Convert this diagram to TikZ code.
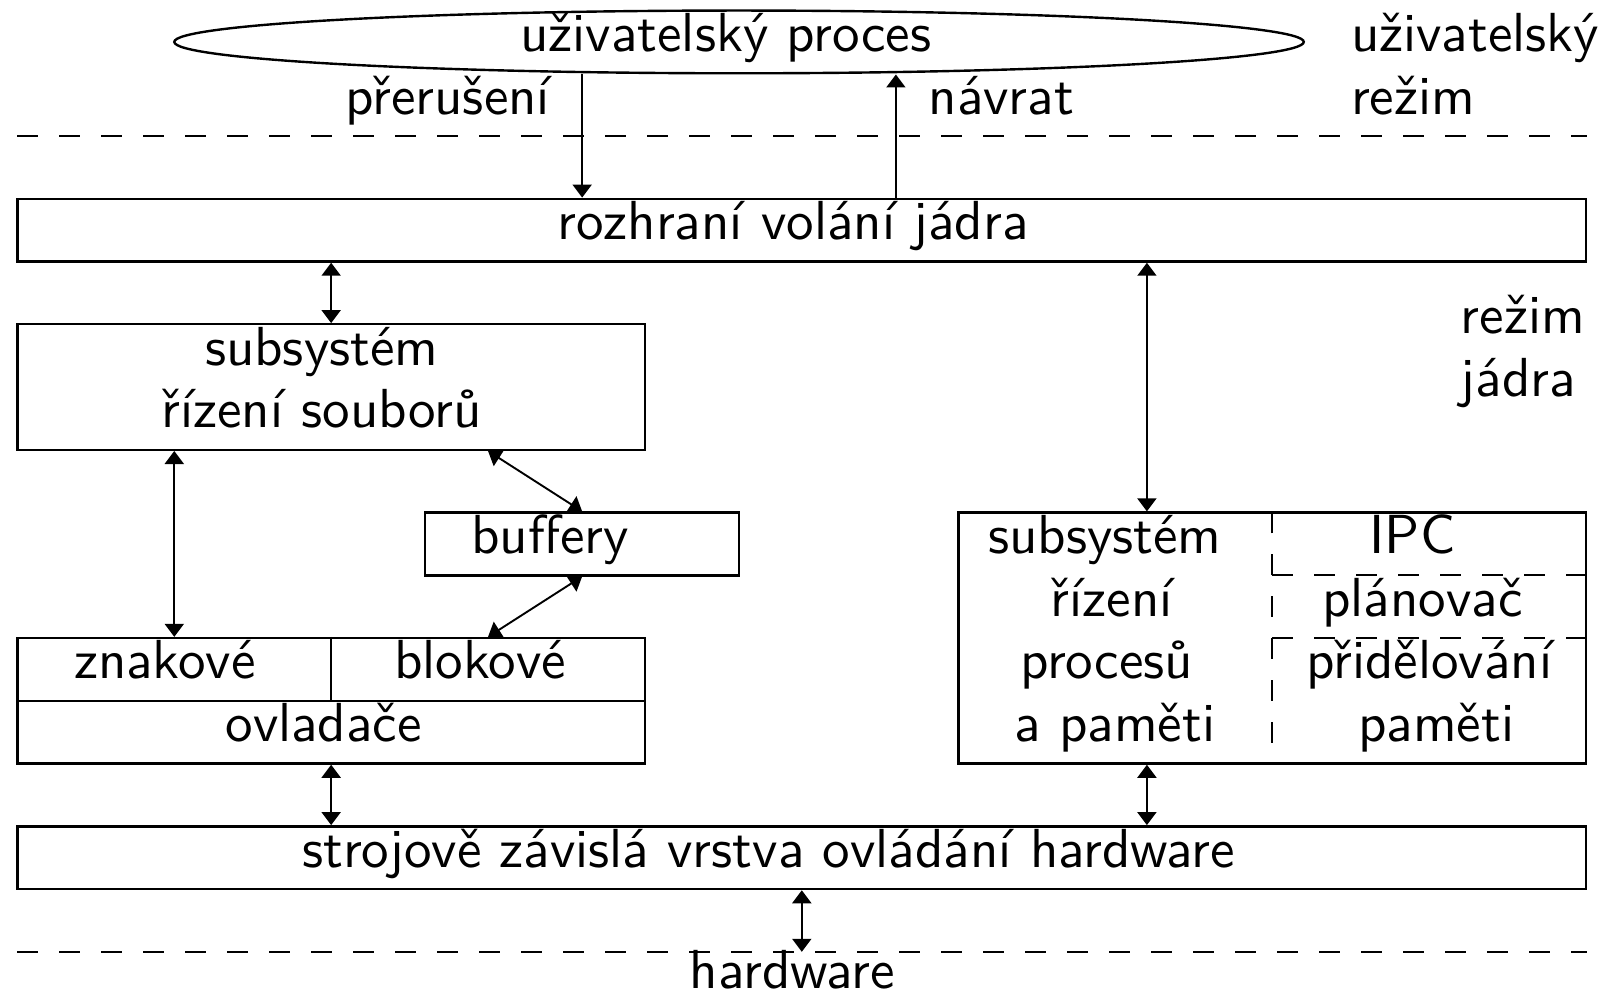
\documentclass[tikz,border=0pt]{standalone}
\usepackage{fontspec}
\setsansfont{lmsans10-regular}[Extension=.otf]
\usetikzlibrary{arrows.meta,shapes.geometric}
\newlength\un
\setlength\un{62.75pt}
\begin{document}
\begin{tikzpicture}[x=\un,y=-\un,
  font=\sffamily\fontsize{55}{63}\selectfont,
  box/.style={draw,line width=2.4pt,inner sep=0pt,rectangle},
  sub/.style={draw,line width=2pt,dash pattern=on 21pt off 21pt},
  sep/.style={line width=2pt,dash pattern=on 21pt off 21pt},
  lbl/.style={inner sep=0pt,anchor=base},
  tip/.tip={Triangle[length=13pt,width=19pt]},
  link/.style={line width=1.9pt,tip-tip},
  onew/.style={line width=1.9pt,-tip}]
\useasboundingbox (-0.2773,-3.168) rectangle (25.332,12.688);

% mode separators
\draw[sep] (0,-1) -- (25.02,-1);
\draw[sep] (0,12) -- (25.02,12);

% user process
\node[draw,ellipse,line width=2.4pt,inner sep=0pt,minimum width=18\un,minimum height=1\un] (up) at (11.5,-2.5) {};
\node[lbl] (upt) at (11.29,-2.35) {uživatelský proces};
\node[lbl,anchor=base east] (intr) at (8.49,-1.35) {přerušení};
\node[lbl,anchor=base west] (ret) at (14.52,-1.35) {návrat};
\node[lbl,anchor=base west] (um1) at (21.25,-2.35) {uživatelský};
\node[lbl,anchor=base west] (um2) at (21.25,-1.35) {režim};
\node[lbl,anchor=base west] (km1) at (23.0,2.15) {režim};
\node[lbl,anchor=base west] (km2) at (23.0,3.15) {jádra};

% kernel blocks
\node[box,minimum width=25\un,minimum height=1\un] (kif) at (12.5,0.5) {};
\node[lbl] at (12.36,0.65) {rozhraní volání jádra};

\node[box,minimum width=10\un,minimum height=2\un] (fs) at (5,3) {};
\node[lbl] at (4.85,2.65) {subsystém};
\node[lbl] at (4.85,3.65) {řízení souborů};

\node[box,minimum width=5\un,minimum height=1\un] (buf) at (9,5.5) {};
\node[lbl] at (8.49,5.65) {buffery};

\node[box,minimum width=10\un,minimum height=2\un] (drv) at (5,8) {};
\draw[line width=2.4pt] (drv.west |- 0,8) -- (drv.east |- 0,8);
\draw[line width=2.4pt] (drv.north -| 5,0) -- (5,8);
\node[lbl] at (2.35,7.65) {znakové};
\node[lbl] at (7.37,7.65) {blokové};
\node[lbl] at (4.88,8.65) {ovladače};

% process and memory subsystem: dashed inner partition
\draw[sub] (20,6) -- (20,5);
\draw[sub] (20,6) -- (25,6);
\draw[sub,dash phase=21pt] (20,6) -- (20,7);
\draw[sub] (20,7) -- (25,7);
\draw[sub] (20,7) -- (20,9);
\node[box,minimum width=10\un,minimum height=4\un] (pm) at (20,7) {};
\node[lbl] at (17.33,5.65) {subsystém};
\node[lbl] at (17.44,6.65) {řízení};
\node[lbl] at (17.36,7.65) {procesů};
\node[lbl] at (17.49,8.65) {a paměti};
\node[lbl] at (22.23,5.65) {IPC};
\node[lbl] at (22.39,6.65) {plánovač};
\node[lbl] at (22.5,7.65) {přidělování};
\node[lbl] at (22.61,8.65) {paměti};

\node[box,minimum width=25\un,minimum height=1\un] (hal) at (12.5,10.5) {};
\node[lbl] at (11.97,10.65) {strojově závislá vrstva ovládání hardware};

\coordinate (hw) at (12.5,12);
\node[lbl] (hwt) at (12.35,12.59) {hardware};

% connectors
\draw[onew] (up.south -| 9,0) -- (kif.north -| 9,0);
\draw[onew] (kif.north -| 14,0) -- (up.south -| 14,0);
\draw[link] (kif.south -| 5,0) -- (fs.north -| 5,0);
\draw[link] (kif.south -| 18,0) -- (pm.north -| 18,0);
\draw[link] (fs.south -| 2.5,0) -- (drv.north -| 2.5,0);
\draw[link] (fs.south -| 7.5,0) -- (buf.north -| 9,0);
\draw[link] (buf.south -| 9,0) -- (drv.north -| 7.5,0);
\draw[link] (drv.south -| 5,0) -- (hal.north -| 5,0);
\draw[link] (pm.south -| 18,0) -- (hal.north -| 18,0);
\draw[link] (hal.south -| hw) -- (hw);
\end{tikzpicture}
\end{document}
